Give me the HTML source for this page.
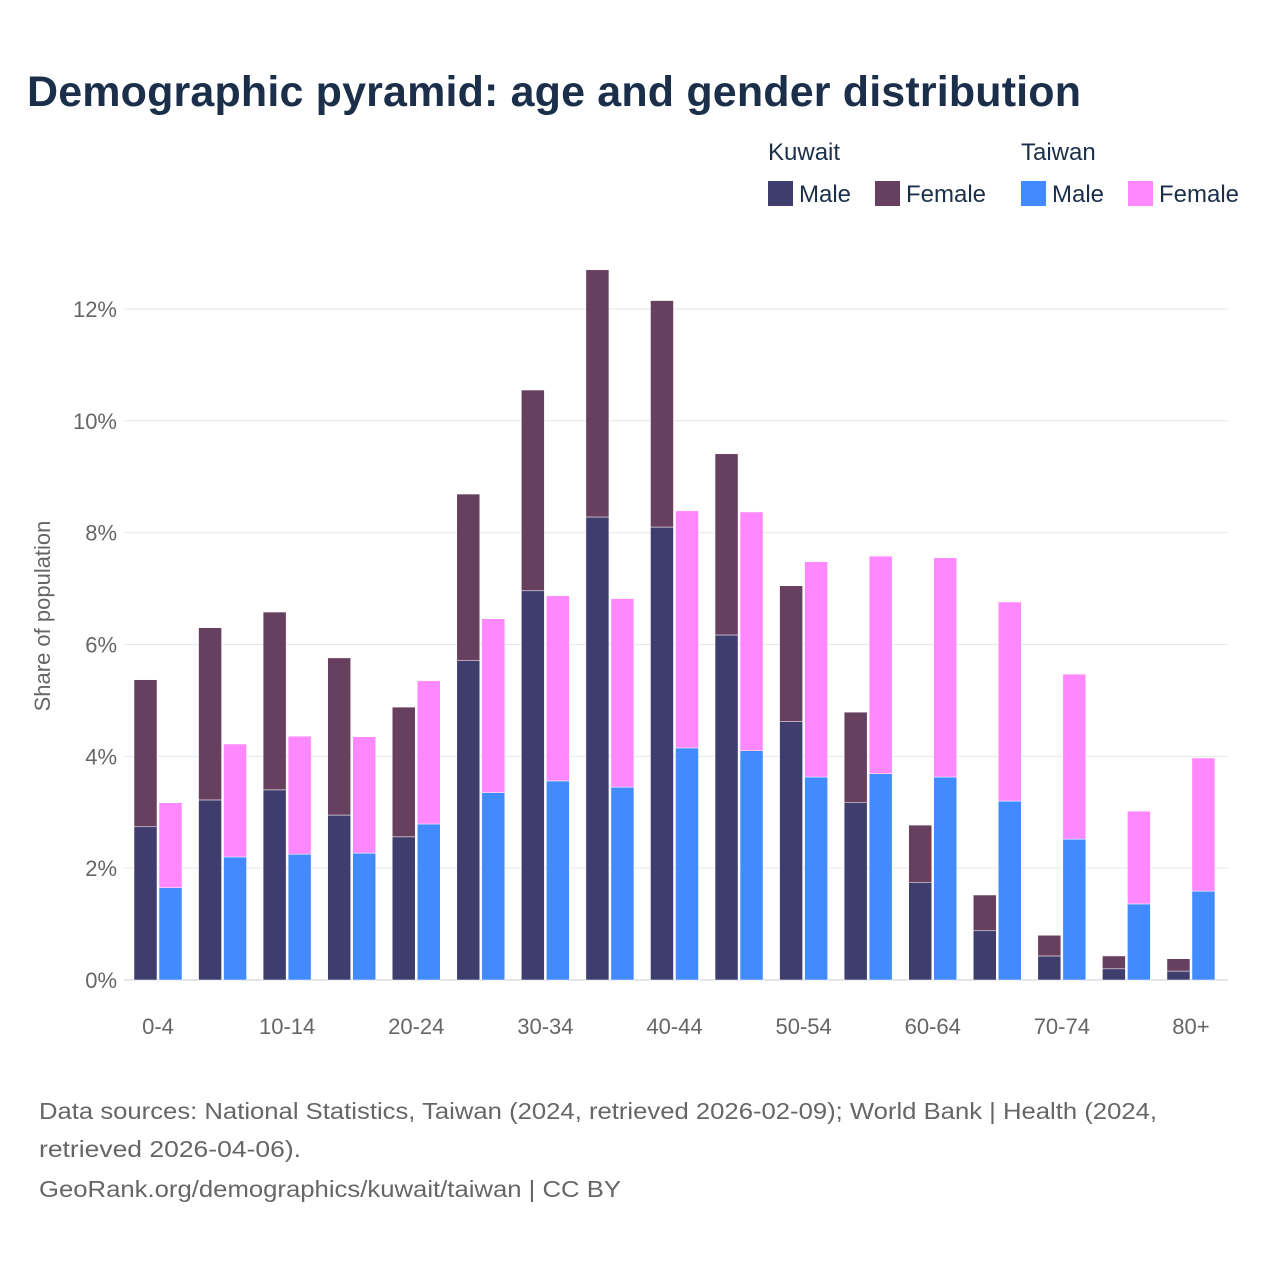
<!DOCTYPE html>
<html><head><meta charset="utf-8">
<style>
body{margin:0;background:#fff;font-family:"Liberation Sans",sans-serif;}
svg text{font-family:"Liberation Sans",sans-serif;}
</style></head>
<body>
<svg id="c" width="1280" height="1280" xmlns="http://www.w3.org/2000/svg">
<rect width="1280" height="1280" fill="#fff"/>
<text x="27" y="106" font-size="43" font-weight="bold" fill="#1b2f4b" textLength="1054">Demographic pyramid: age and gender distribution</text>
<g>
<text x="768" y="160" font-size="24" fill="#1b2f4b">Kuwait</text>
<text x="1021" y="160" font-size="24" fill="#1b2f4b">Taiwan</text>
<g><rect x="768" y="181" width="25" height="25" fill="#3f3d6e"/><text x="799" y="202" font-size="24" fill="#1b2f4b">Male</text></g>
<g><rect x="875" y="181" width="25" height="25" fill="#673f5f"/><text x="906" y="202" font-size="24" fill="#1b2f4b">Female</text></g>
<g><rect x="1021" y="181" width="25" height="25" fill="#418bff"/><text x="1052" y="202" font-size="24" fill="#1b2f4b">Male</text></g>
<g><rect x="1128" y="181" width="25" height="25" fill="#ff88ff"/><text x="1159" y="202" font-size="24" fill="#1b2f4b">Female</text></g>
</g>
<text transform="translate(50,616) rotate(-90)" text-anchor="middle" font-size="22" fill="#666">Share of population</text>
<g id="grid"></g>
<g id="bars"></g>
<g id="xt"></g>
<text x="39" y="1119" font-size="23" fill="#666" textLength="1118" lengthAdjust="spacingAndGlyphs">Data sources: National Statistics, Taiwan (2024, retrieved 2026-02-09); World Bank | Health (2024,</text>
<text x="39" y="1157" font-size="23" fill="#666" textLength="262" lengthAdjust="spacingAndGlyphs">retrieved 2026-04-06).</text>
<text x="39" y="1197" font-size="23" fill="#666" textLength="582" lengthAdjust="spacingAndGlyphs">GeoRank.org/demographics/kuwait/taiwan | CC BY</text>
</svg>
<script>
const categories=["0-4","5-9","10-14","15-19","20-24","25-29","30-34","35-39","40-44","45-49","50-54","55-59","60-64","65-69","70-74","75-79","80+"];
const kuwaitMale=[2.74,3.22,3.40,2.95,2.56,5.71,6.96,8.28,8.10,6.17,4.62,3.17,1.74,0.88,0.43,0.20,0.16];
const kuwaitFemale=[2.63,3.08,3.18,2.81,2.32,2.98,3.59,4.42,4.05,3.24,2.43,1.62,1.03,0.64,0.37,0.23,0.22];
const taiwanMale=[1.65,2.20,2.25,2.27,2.79,3.35,3.56,3.45,4.15,4.10,3.63,3.69,3.63,3.20,2.52,1.36,1.59];
const taiwanFemale=[1.52,2.02,2.11,2.08,2.56,3.11,3.31,3.37,4.24,4.27,3.85,3.89,3.92,3.56,2.95,1.66,2.38];
const yTicks=[0,2,4,6,8,10,12];
const NS="http://www.w3.org/2000/svg";
const y0=980,pxPer=55.92;
const y=v=>y0-v*pxPer;
const x=i=>158+i*64.56;
const grid=document.getElementById('grid'),bars=document.getElementById('bars'),xt=document.getElementById('xt');
function mk(tag,attrs,parent){const e=document.createElementNS(NS,tag);for(const k in attrs)e.setAttribute(k,attrs[k]);parent.appendChild(e);return e;}
yTicks.forEach(t=>{
  const l=mk('line',{x1:124,x2:1228,y1:y(t),y2:y(t),stroke:t===0?'#ccc':'#e6e6e6','stroke-width':1},grid);
  
  
  const tx=mk('text',{x:117,y:y(t)+8,'text-anchor':'end','font-size':22,fill:'#666'},grid);
  tx.textContent=t+'%';
  
  
});
categories.forEach((c,i)=>{
  const cx=x(i);
  const segs=[[cx-24,0,kuwaitMale[i],'#3f3d6e','kuwait-male'],[cx-24,kuwaitMale[i],kuwaitFemale[i],'#673f5f','kuwait-female'],
    [cx+1,0,taiwanMale[i],'#418bff','taiwan-male'],[cx+1,taiwanMale[i],taiwanFemale[i],'#ff88ff','taiwan-female']];
  segs.forEach(s=>{
    const r=mk('rect',{x:s[0],y:y(s[1]+s[2]),width:23,height:s[2]*pxPer,fill:s[3],stroke:'#fff','stroke-width':0.5},bars);
    
    
  });
  if(i%2===0){
    const t=mk('text',{x:cx,y:1034,'text-anchor':'middle','font-size':22,fill:'#666'},xt);
    t.textContent=c;
    
    
  }
});
</script>
</body></html>
